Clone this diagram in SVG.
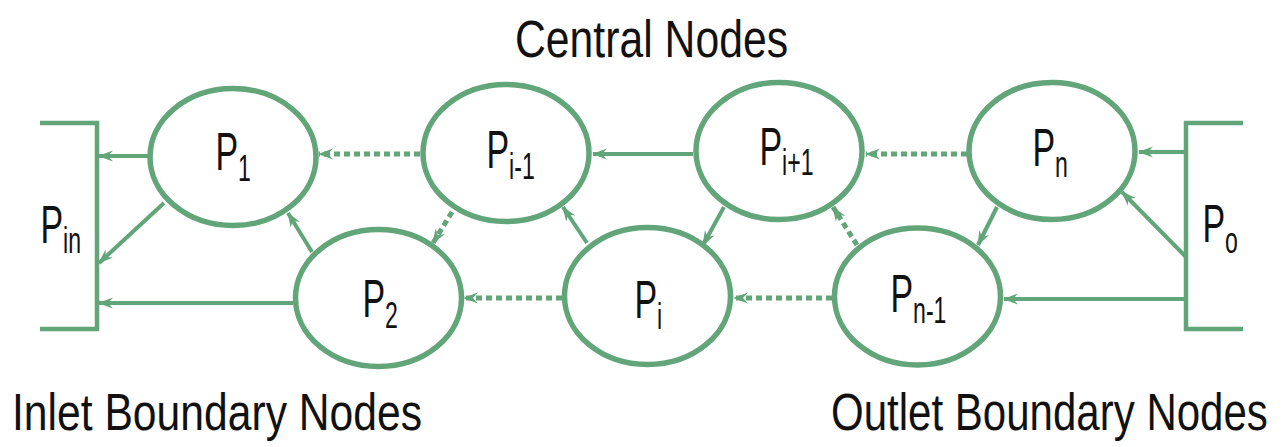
<svg xmlns="http://www.w3.org/2000/svg" width="1287" height="447" viewBox="0 0 1287 447">
  <style>
    .node { fill: #ffffff; stroke: #62a579; stroke-width: 5.5; }
    .bracket { fill: none; stroke: #62a579; stroke-width: 4.5; }
    .edge { fill: none; stroke: #62a579; stroke-width: 4; marker-end: url(#arrow); }
    .dotted { stroke-width: 5; stroke-dasharray: 6 4; }
    .lbl { font-family: "Liberation Sans", Arial, sans-serif; font-size: 53px; fill: #111111; }
    .sub { font-size: 36px; }
    .title { font-family: "Liberation Sans", Arial, sans-serif; font-size: 52px; fill: #111111; }
  </style>
  <defs>
    <marker id="arrow" viewBox="0 0 15 12" refX="14" refY="6" markerWidth="15" markerHeight="12" markerUnits="userSpaceOnUse" orient="auto">
      <path d="M0,0.5 L15,6 L0,11.5 L5,6 Z" fill="#62a579"/>
    </marker>
  </defs>

  <!-- section captions (condensed horizontally) -->
  <text class="title" transform="translate(515,57) scale(0.8215,1)">Central Nodes</text>
  <text class="title" transform="translate(12,430) scale(0.82,1)">Inlet Boundary Nodes</text>
  <text class="title" transform="translate(831,430) scale(0.8085,1)">Outlet Boundary Nodes</text>

  <!-- connectors -->
  <g id="connectors">
    <line class="edge" x1="148" y1="156" x2="99" y2="156"/>
    <line class="edge" x1="164" y1="203" x2="99" y2="263"/>
    <line class="edge" x1="293" y1="303" x2="99" y2="303"/>
    <line class="edge" x1="312" y1="252" x2="288" y2="213"/>
    <line class="edge dotted" x1="420" y1="154" x2="319" y2="154"/>
    <line class="edge" x1="693" y1="154" x2="593" y2="154"/>
    <line class="edge dotted" x1="452" y1="212" x2="433" y2="243"/>
    <line class="edge" x1="587" y1="243" x2="563" y2="207"/>
    <line class="edge" x1="724" y1="207" x2="703" y2="245"/>
    <line class="edge dotted" x1="562" y1="298" x2="464" y2="298"/>
    <line class="edge dotted" x1="967" y1="154" x2="866" y2="154"/>
    <line class="edge dotted" x1="857" y1="245" x2="833" y2="207"/>
    <line class="edge dotted" x1="832" y1="298" x2="734" y2="298"/>
    <line class="edge" x1="997" y1="207" x2="978" y2="245"/>
    <line class="edge" x1="1186" y1="152" x2="1139" y2="152"/>
    <line class="edge" x1="1186" y1="257" x2="1122" y2="192"/>
    <line class="edge" x1="1186" y1="299" x2="1004" y2="299"/>
  </g>

  <!-- inlet boundary -->
  <g id="inlet">
    <path class="bracket" d="M40,123 H97 V329 H40"/>
    <text class="lbl" transform="translate(40.5,243) scale(0.64,1)">P<tspan class="sub" dy="10">in</tspan></text>
  </g>

  <!-- outlet boundary -->
  <g id="outlet">
    <path class="bracket" d="M1243,123 H1186 V329 H1243"/>
    <text class="lbl" transform="translate(1202.5,242) scale(0.64,1)">P<tspan class="sub" dy="11">o</tspan></text>
  </g>

  <!-- central nodes, upper row -->
  <g id="p1">
    <ellipse class="node" cx="233" cy="157" rx="83" ry="68.5"/>
    <text class="lbl" transform="translate(215.5,170) scale(0.64,1)">P<tspan class="sub" dy="11">1</tspan></text>
  </g>
  <g id="p-im1">
    <ellipse class="node" cx="506" cy="153" rx="83" ry="68.5"/>
    <text class="lbl" transform="translate(486.5,168) scale(0.64,1)">P<tspan class="sub" dy="11">i-1</tspan></text>
  </g>
  <g id="p-ip1">
    <ellipse class="node" cx="779" cy="151" rx="83" ry="68.5"/>
    <text class="lbl" transform="translate(759.5,165) scale(0.64,1)">P<tspan class="sub" dy="10">i+1</tspan></text>
  </g>
  <g id="pn">
    <ellipse class="node" cx="1052" cy="151" rx="83" ry="68.5"/>
    <text class="lbl" transform="translate(1032.5,166) scale(0.64,1)">P<tspan class="sub" dy="11">n</tspan></text>
  </g>

  <!-- central nodes, lower row -->
  <g id="p2">
    <ellipse class="node" cx="378.5" cy="298" rx="83" ry="68.5"/>
    <text class="lbl" transform="translate(362.5,317) scale(0.64,1)">P<tspan class="sub" dy="11">2</tspan></text>
  </g>
  <g id="pi">
    <ellipse class="node" cx="647.5" cy="296" rx="83" ry="68.5"/>
    <text class="lbl" transform="translate(634.5,318) scale(0.64,1)">P<tspan class="sub" dy="11">i</tspan></text>
  </g>
  <g id="pnm1">
    <ellipse class="node" cx="917.5" cy="296.5" rx="83" ry="68.5"/>
    <text class="lbl" transform="translate(890.5,312) scale(0.64,1)">P<tspan class="sub" dy="11">n-1</tspan></text>
  </g>
</svg>
